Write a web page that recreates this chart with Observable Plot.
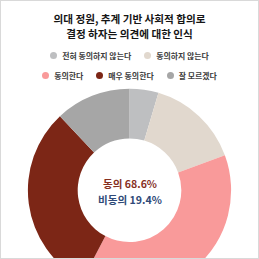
<!DOCTYPE html>
<html><head><meta charset="utf-8">
<script src="https://cdn.jsdelivr.net/npm/d3@7"></script>
<script src="https://cdn.jsdelivr.net/npm/@observablehq/plot@0.6"></script>
<style>
html,body{margin:0;padding:0;background:#fff;overflow:hidden;}
#wrap{position:relative;width:259px;height:259px;box-sizing:border-box;border:1px solid #d9d9d9;overflow:hidden;font-family:"Noto Sans CJK KR","Noto Sans",sans-serif;}
#chart{position:absolute;left:-1px;top:-1px;}
.tl{position:absolute;left:0;right:0;text-align:center;font-weight:700;font-size:10.6px;line-height:14px;height:14px;color:#151515;}
.row{position:absolute;left:0;right:0;display:flex;justify-content:center;align-items:center;font-size:7.9px;font-weight:700;color:#3c3c3c;height:11px;}
.item{display:flex;align-items:center;margin:0 6.5px;white-space:nowrap;}
.sw{width:7px;height:7px;border-radius:50%;margin-right:5px;}
</style></head>
<body><div id="wrap"><div id="chart"></div><div class="tl" id="t1" style="top:11px"></div><div class="tl" id="t2" style="top:25.5px"></div><div class="row" id="r1" style="top:49px"></div><div class="row" id="r2" style="top:69px"></div></div>
<script>
const titleLines = ["의대 정원, 추계 기반 사회적 합의로", "결정 하자는 의견에 대한 인식"];
const categories = ["전혀 동의하지 않는다", "동의하지 않는다", "동의한다", "매우 동의한다", "잘 모르겠다"];
const values = [4.6, 14.8, 38.3, 30.3, 12.0];
const colors = ["#bebfc1", "#e1d8ce", "#f99a9a", "#7c2616", "#a6a6a6"];
const legendRows = [[0, 1], [2, 3, 4]];
const centerLabels = ["동의 68.6%", "비동의 19.4%"];
const centerColors = ["#86301f", "#2f4a78"];

document.getElementById("t1").textContent = titleLines[0];
document.getElementById("t2").textContent = titleLines[1];
const color = Plot.scale({color: {type: "ordinal", domain: categories, range: colors}});
legendRows.forEach((row, i) => {
  const el = document.getElementById("r" + (i + 1));
  row.forEach(k => {
    const it = document.createElement("div");
    it.className = "item";
    it.innerHTML = `<span class="sw" style="background:${color.apply(categories[k])}"></span>${categories[k]}`;
    el.appendChild(it);
  });
});

const data = categories.map((c, i) => ({label: c, value: values[i]}));
const W = 259, H = 259, CX = 130, CY = 191, R = 102, IR = 52 / 102;
const pie = d3.pie().sort(null).value(d => d.value);

function donut(index, scales) {
  const {x, y} = scales;
  const cx = x(0), cy = y(0), r = x(1) - x(0);
  const arc = d3.arc().innerRadius(r * IR).outerRadius(r);
  const g = d3.create("svg:g").attr("transform", `translate(${cx},${cy})`);
  g.selectAll("path").data(pie(data)).join("path")
    .attr("d", arc)
    .attr("fill", d => scales.color(d.data.label));
  return g.node();
}

const centerData = centerLabels.map((t, i) => ({t, i}));
const textStyle = {fontSize: 10.6, fontWeight: 700, fontFamily: "'Noto Sans CJK KR', sans-serif"};
const plot = Plot.plot({
  width: W, height: H,
  margin: 0,
  x: {domain: [-CX / R, (W - CX) / R], axis: null},
  y: {domain: [-(H - CY) / R, CY / R], axis: null},
  color: {type: "ordinal", domain: categories, range: colors},
  marks: [
    Plot.dot(data, {x: 0, y: 0, r: 0, fill: "label"}),
    donut,
    Plot.text([centerData[0]], {x: 0, y: 0, text: "t", fill: centerColors[0], dy: -6, ...textStyle}),
    Plot.text([centerData[1]], {x: 0, y: 0, text: "t", fill: centerColors[1], dy: 10, ...textStyle})
  ]
});
document.getElementById("chart").appendChild(plot);
</script></body></html>
